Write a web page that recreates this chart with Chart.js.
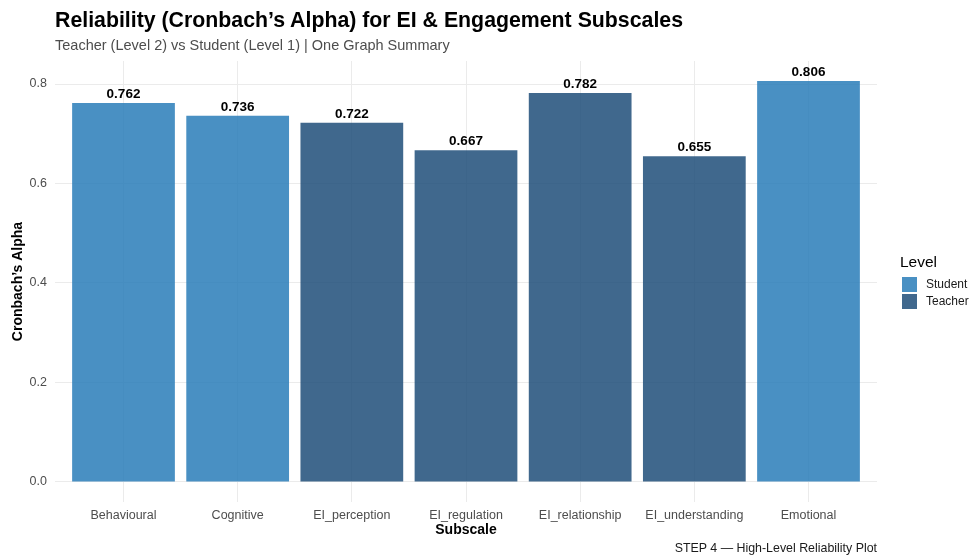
<!DOCTYPE html>
<html>
<head>
<meta charset="utf-8">
<script src="https://cdn.jsdelivr.net/npm/chart.js@4/dist/chart.umd.min.js"></script>
<style>
  html, body { margin: 0; padding: 0; background: #fff; }
  body { width: 970px; height: 557px; position: relative; overflow: hidden;
         font-family: "Liberation Sans", Arial, sans-serif; }
  #wrap { position: absolute; left: 0; top: 0; width: 970px; height: 557px; }
  .txt { position: absolute; white-space: nowrap; line-height: 1; }
  #title { left: 55px; top: 10px; font-size: 21.3px; font-weight: bold; color: #000; }
  #subtitle { left: 55px; top: 38px; font-size: 14.5px; color: #4d4d4d; }
  #caption { right: 93px; top: 542px; font-size: 12.4px; color: #1a1a1a; }
  #legend { position: absolute; left: 900px; top: 254px; }
  #legend .head { font-size: 15.5px; color: #000; margin-bottom: 6px; line-height: 1; }
  #legend .row { display: flex; align-items: center; height: 17px; font-size: 12px; color: #1a1a1a; }
  #legend .key { width: 15px; height: 15px; margin: 0 9px 0 2px; }
</style>
</head>
<body>
<div id="wrap"><canvas id="myChart" width="970" height="557"></canvas></div>
<div class="txt" id="title">Reliability (Cronbach’s Alpha) for EI &amp; Engagement Subscales</div>
<div class="txt" id="subtitle">Teacher (Level 2) vs Student (Level 1) | One Graph Summary</div>
<div class="txt" id="caption">STEP 4 — High-Level Reliability Plot</div>
<div id="legend"></div>
<script>
const subscales = ['Behavioural', 'Cognitive', 'EI_perception', 'EI_regulation',
                   'EI_relationship', 'EI_understanding', 'Emotional'];
const alphas = [0.762, 0.736, 0.722, 0.667, 0.782, 0.655, 0.806];
const levels = ['Student', 'Student', 'Teacher', 'Teacher', 'Teacher', 'Teacher', 'Student'];
const levelNames = ['Student', 'Teacher'];
const yTicks = [0, 0.2, 0.4, 0.6, 0.8];

const levelColors = {
  Student: 'rgba(41,125,185,0.85)',
  Teacher: 'rgba(31,78,121,0.85)'
};

const FONT = '"Liberation Sans", Arial, sans-serif';

// legend on the right
const legendEl = document.getElementById('legend');
legendEl.innerHTML = '<div class="head">Level</div>' + levelNames.map(n =>
  '<div class="row"><span class="key" style="background:' + levelColors[n] + '"></span>' + n + '</div>'
).join('');

// value labels over each bar
const barLabels = {
  id: 'barLabels',
  afterDatasetsDraw(chart) {
    const ctx = chart.ctx;
    const meta = chart.getDatasetMeta(0);
    ctx.save();
    ctx.font = 'bold 13.5px ' + FONT;
    ctx.fillStyle = '#000';
    ctx.textAlign = 'center';
    ctx.textBaseline = 'middle';
    meta.data.forEach((bar, i) => {
      ctx.fillText(alphas[i].toFixed(3), bar.x, bar.y - 8.5);
    });
    ctx.restore();
  }
};

const ctx = document.getElementById('myChart');
new Chart(ctx, {
  type: 'bar',
  data: {
    datasets: [{
      data: subscales.map((s, i) => ({ x: i, y: alphas[i] })),
      backgroundColor: levels.map(l => levelColors[l]),
      borderWidth: 0,
      barPercentage: 0.9,
      categoryPercentage: 1
    }]
  },
  options: {
    responsive: false,
    animation: false,
    layout: { padding: { top: 61, right: 93, bottom: 0, left: 0 } },
    plugins: { legend: { display: false }, tooltip: { enabled: false } },
    scales: {
      x: {
        type: 'linear',
        offset: false,
        min: -0.6,
        max: 6.6,
        afterBuildTicks: scale => { scale.ticks = subscales.map((s, i) => ({ value: i })); },
        afterFit: scale => { scale.height = 55; },
        border: { display: false },
        grid: { color: '#ebebeb', lineWidth: 1, drawTicks: false, offset: false },
        ticks: {
          autoSkip: false, maxRotation: 0, padding: 6,
          color: '#4d4d4d', font: { family: FONT, size: 12.5 },
          callback: v => subscales[Math.round(v)]
        },
        title: {
          display: true, text: 'Subscale', color: '#000',
          font: { family: FONT, size: 14, weight: 'bold' },
          padding: { top: 0, bottom: 18 }
        }
      },
      y: {
        min: -0.0403,
        max: 0.8463,
        afterBuildTicks: scale => { scale.ticks = yTicks.map(v => ({ value: v })); },
        afterFit: scale => { scale.width = 55; },
        border: { display: false },
        grid: { color: '#ebebeb', lineWidth: 1, drawTicks: false },
        ticks: {
          padding: 8, color: '#4d4d4d', font: { family: FONT, size: 12.5 },
          callback: v => v.toFixed(1)
        },
        title: {
          display: true, text: 'Cronbach’s Alpha', color: '#000',
          font: { family: FONT, size: 14, weight: 'bold' },
          padding: { top: 10, bottom: 0 }
        }
      }
    }
  },
  plugins: [barLabels]
});
</script>
</body>
</html>
